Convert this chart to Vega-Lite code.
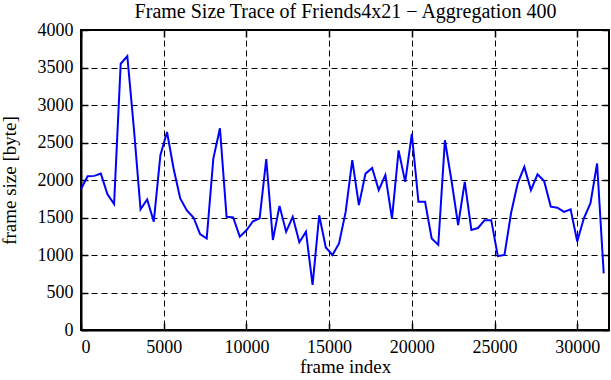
{
  "$schema": "https://vega.github.io/schema/vega-lite/v6.json",
  "width": 528,
  "height": 300,
  "autosize": {"type": "none"},
  "padding": {"left": 81, "top": 30, "right": 2, "bottom": 50},
  "data": {
    "values": [
      {"frame": 0, "size": 1880}, {"frame": 400, "size": 2050}, {"frame": 800, "size": 2055}, {"frame": 1200, "size": 2085},
      {"frame": 1600, "size": 1810}, {"frame": 2000, "size": 1680}, {"frame": 2400, "size": 3550}, {"frame": 2800, "size": 3650},
      {"frame": 3200, "size": 2680}, {"frame": 3600, "size": 1610}, {"frame": 4000, "size": 1740}, {"frame": 4400, "size": 1445},
      {"frame": 4800, "size": 2330}, {"frame": 5200, "size": 2640}, {"frame": 5600, "size": 2150}, {"frame": 6000, "size": 1755},
      {"frame": 6400, "size": 1595}, {"frame": 6800, "size": 1500}, {"frame": 7200, "size": 1280}, {"frame": 7600, "size": 1220},
      {"frame": 8000, "size": 2285}, {"frame": 8400, "size": 2690}, {"frame": 8800, "size": 1510}, {"frame": 9200, "size": 1500},
      {"frame": 9600, "size": 1245}, {"frame": 10000, "size": 1330}, {"frame": 10400, "size": 1450}, {"frame": 10800, "size": 1490},
      {"frame": 11200, "size": 2280}, {"frame": 11600, "size": 1200}, {"frame": 12000, "size": 1655}, {"frame": 12400, "size": 1310},
      {"frame": 12800, "size": 1510}, {"frame": 13200, "size": 1170}, {"frame": 13600, "size": 1310}, {"frame": 14000, "size": 600},
      {"frame": 14400, "size": 1530}, {"frame": 14800, "size": 1100}, {"frame": 15200, "size": 1000}, {"frame": 15600, "size": 1155},
      {"frame": 16000, "size": 1575}, {"frame": 16400, "size": 2265}, {"frame": 16800, "size": 1665}, {"frame": 17200, "size": 2085},
      {"frame": 17600, "size": 2160}, {"frame": 18000, "size": 1865}, {"frame": 18400, "size": 2065}, {"frame": 18800, "size": 1485},
      {"frame": 19200, "size": 2395}, {"frame": 19600, "size": 1975}, {"frame": 20000, "size": 2615}, {"frame": 20400, "size": 1710},
      {"frame": 20800, "size": 1710}, {"frame": 21200, "size": 1220}, {"frame": 21600, "size": 1135}, {"frame": 22000, "size": 2530},
      {"frame": 22400, "size": 1990}, {"frame": 22800, "size": 1400}, {"frame": 23200, "size": 1975}, {"frame": 23600, "size": 1335},
      {"frame": 24000, "size": 1360}, {"frame": 24400, "size": 1465}, {"frame": 24800, "size": 1465}, {"frame": 25200, "size": 985},
      {"frame": 25600, "size": 1000}, {"frame": 26000, "size": 1560}, {"frame": 26400, "size": 1955}, {"frame": 26800, "size": 2175},
      {"frame": 27200, "size": 1865}, {"frame": 27600, "size": 2075}, {"frame": 28000, "size": 1985}, {"frame": 28400, "size": 1645},
      {"frame": 28800, "size": 1630}, {"frame": 29200, "size": 1575}, {"frame": 29600, "size": 1610}, {"frame": 30000, "size": 1180},
      {"frame": 30400, "size": 1490}, {"frame": 30800, "size": 1690}, {"frame": 31200, "size": 2220}, {"frame": 31600, "size": 755}
    ]
  },
  "layer": [
    {
      "mark": {"type": "line", "color": "#0000ff", "strokeWidth": 2},
      "encoding": {
        "x": {
          "field": "frame", "type": "quantitative",
          "scale": {"domain": [0, 31920], "nice": false, "zero": false},
          "axis": {
            "orient": "bottom",
            "values": [0, 5000, 10000, 15000, 20000, 25000, 30000],
            "format": "d",
            "title": "frame index",
            "labelFont": "Liberation Serif",
            "titleFont": "Liberation Serif",
            "labelPadding": 15,
            "titlePadding": 1,
            "grid": true
          }
        },
        "y": {
          "field": "size", "type": "quantitative",
          "scale": {"domain": [0, 4000], "nice": false},
          "axis": {
            "orient": "left",
            "values": [0, 500, 1000, 1500, 2000, 2500, 3000, 3500, 4000],
            "format": "d",
            "title": "frame size [byte]",
            "labelFont": "Liberation Serif",
            "titleFont": "Liberation Serif",
            "labelPadding": 15,
            "titlePadding": 18,
            "grid": true
          }
        }
      }
    },
    {
      "mark": {"type": "line", "opacity": 0},
      "encoding": {
        "x": {
          "field": "frame", "type": "quantitative",
          "scale": {"domain": [0, 31920], "nice": false, "zero": false},
          "axis": {
            "orient": "top",
            "values": [0, 5000, 10000, 15000, 20000, 25000, 30000],
            "labels": false,
            "title": "Frame Size Trace of Friends4x21 − Aggregation 400",
            "titleFont": "Liberation Serif",
            "titleFontSize": 20,
            "titlePadding": 8,
            "grid": false,
            "domain": false,
            "minExtent": 0
          }
        },
        "y": {
          "field": "size", "type": "quantitative",
          "scale": {"domain": [0, 4000], "nice": false},
          "axis": {"orient": "right", "values": [0, 500, 1000, 1500, 2000, 2500, 3000, 3500, 4000], "labels": false, "title": null, "grid": false, "domain": false, "minExtent": 0}
        }
      }
    }
  ],
  "resolve": {"axis": {"x": "independent", "y": "independent"}},
  "config": {
    "font": "Liberation Serif",
    "background": "white",
    "view": {"stroke": "black", "strokeWidth": 2},
    "axis": {
      "domainColor": "black",
      "domainWidth": 2,
      "tickColor": "black",
      "tickWidth": 1.5,
      "tickSize": -7,
      "minExtent": 0,
      "labelFont": "Liberation Serif",
      "labelFontSize": 18,
      "labelColor": "black",
      "titleFont": "Liberation Serif",
      "titleFontSize": 19,
      "titleFontWeight": "normal",
      "titleColor": "black",
      "gridColor": "black",
      "gridDash": [6, 4],
      "gridWidth": 1,
      "gridOpacity": 1
    }
  }
}
